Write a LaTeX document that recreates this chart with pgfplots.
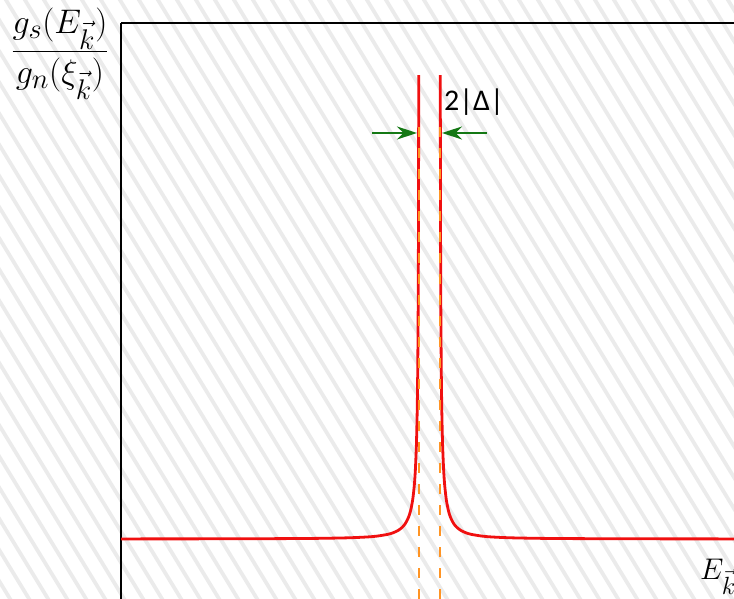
\documentclass[border=0pt]{standalone}
\usepackage{pgfplots}
\pgfplotsset{compat=1.18}
\usetikzlibrary{arrows.meta}
\usepackage{fontspec}
\setmainfont{Carlito}
\definecolor{dosred}{RGB}{240,16,16}
\definecolor{gaporange}{RGB}{255,148,36}
\definecolor{arrowgreen}{RGB}{20,120,20}
\definecolor{hatchgray}{RGB}{235,235,235}

\begin{document}
\begin{tikzpicture}[x=1pt,y=1pt]
\useasboundingbox (0,0) rectangle (734,599);
\clip (0,0) rectangle (734,599);
% diagonal hatching behind everything
\foreach \i in {-30,...,50}{
  \draw[hatchgray, line width=3.8pt] (\i*19,640) -- ++(420,-689);
}
\begin{axis}[
  at={(121pt,0pt)}, anchor=south west,
  scale only axis, width=617pt, height=576pt,
  xmin=-29.381, xmax=29.381, ymin=0.5714, ymax=4.6857,
  axis x line*=top, axis y line*=left,
  xtick=\empty, ytick=\empty,
  axis line style={line width=1.8pt, black},
  clip=true,
]
% BCS density of states, E < 0 branch
\addplot[dosred, line width=2.8pt, smooth] coordinates {
  (-29.38,1.00058) (-20,1.00125) (-12,1.00350) (-8,1.00794) (-6,1.01419)
  (-5,1.02062) (-4,1.03280) (-3.5,1.04349) (-3,1.06066) (-2.6,1.08333)
  (-2.3,1.11046) (-2.0,1.15470) (-1.8,1.20267) (-1.6,1.28103) (-1.45,1.38095)
  (-1.35,1.48857) (-1.25,1.66667) (-1.18,1.88372) (-1.13,2.14743)
  (-1.09,2.51326) (-1.065,2.90690) (-1.05,3.27966) (-1.04,3.64070)
  (-1.033,3.98811) (-1.028,4.31403)
};
% E > 0 branch
\addplot[dosred, line width=2.8pt, smooth] coordinates {
  (1.028,4.31403) (1.033,3.98811) (1.04,3.64070) (1.05,3.27966)
  (1.065,2.90690) (1.09,2.51326) (1.13,2.14743) (1.18,1.88372)
  (1.25,1.66667) (1.35,1.48857) (1.45,1.38095) (1.6,1.28103) (1.8,1.20267)
  (2.0,1.15470) (2.3,1.11046) (2.6,1.08333) (3,1.06066) (3.5,1.04349)
  (4,1.03280) (5,1.02062) (6,1.01419) (8,1.00794) (12,1.00350)
  (20,1.00125) (29.38,1.00058)
};
% gap edges at E = +/- Delta
\addplot[gaporange, line width=2.3pt, dash pattern=on 10pt off 11pt]
  coordinates {(-1,0.5714) (-1,4.0)};
\addplot[gaporange, line width=2.3pt, dash pattern=on 10pt off 11pt]
  coordinates {(1,0.5714) (1,4.0)};
% gap width marker
\draw[arrowgreen, line width=1.5pt, -{Stealth[length=20pt,width=13pt]}]
  (axis cs:-5.476,3.9) -- (axis cs:-1.19,3.9);
\draw[arrowgreen, line width=1.5pt, -{Stealth[length=20pt,width=13pt]}]
  (axis cs:5.476,3.9) -- (axis cs:1.19,3.9);
\end{axis}
\node[anchor=center, inner sep=0pt] at (474,497)
  {\fontsize{30}{36}\selectfont 2|Δ|};
\node[anchor=center, inner sep=0pt, scale=1.37] at (60,545.5)
  {\fontsize{24.88}{30}\selectfont $\displaystyle\frac{g_s(E_{\vec{k}})}{g_n(\xi_{\vec{k}})}$};
\node[anchor=base west, inner sep=0pt, scale=1.2] at (700,19)
  {\fontsize{24.88}{30}\selectfont $E_{\vec{k}}$};
\end{tikzpicture}
\end{document}
